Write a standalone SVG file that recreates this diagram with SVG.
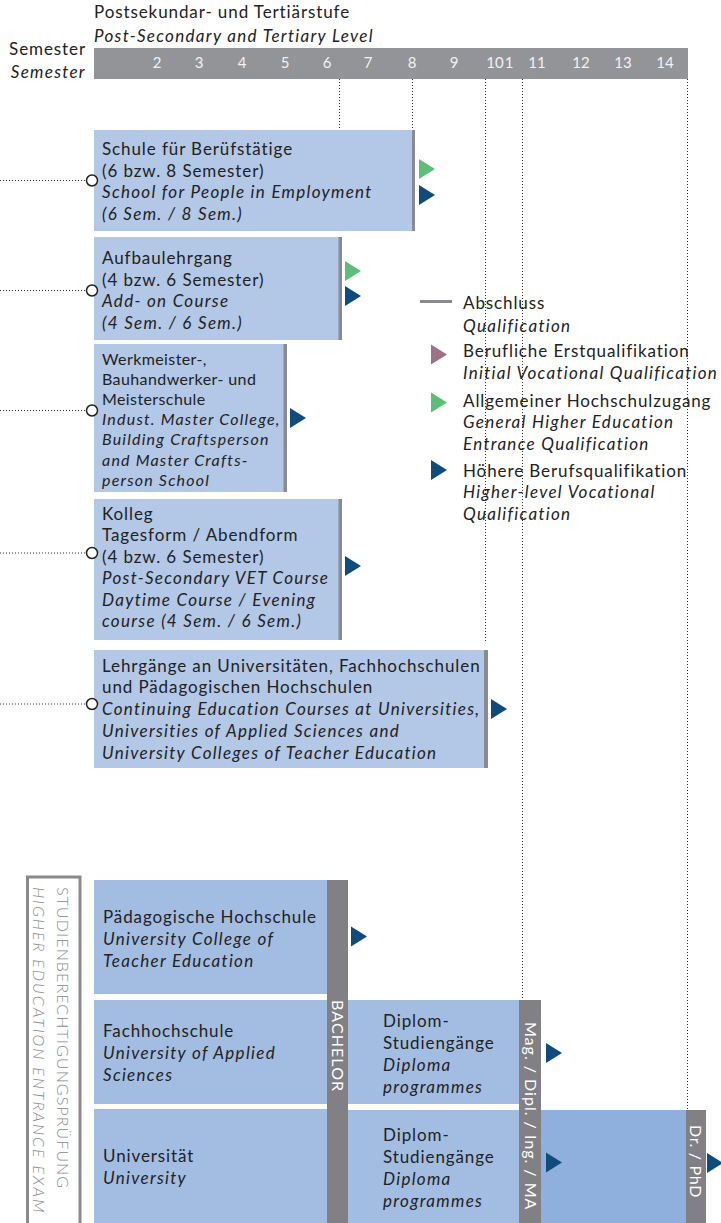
<svg xmlns="http://www.w3.org/2000/svg" width="721" height="1223" viewBox="0 0 721 1223">
<defs>
<style>
text{font-family:Lato,"Noto Sans","Liberation Sans",sans-serif;font-size:17px;letter-spacing:0.9px;fill:#222}
.it{font-style:italic;letter-spacing:1.3px}
.sm{font-size:16px;letter-spacing:0.4px}
.sm.it{letter-spacing:1.2px}
.num{fill:#f2f2f2;font-size:15px;letter-spacing:0;text-anchor:middle}
.box{fill:#b3c7e6}
.box2{fill:#a3bde2}
.phd{fill:#8fb0dc}
.end{fill:#8a8b8f}
.bar{fill:#808085}
.dot{stroke:#333;stroke-width:1;stroke-dasharray:1 2;fill:none}
.circ{fill:#fff;stroke:#222;stroke-width:1.5}
.blue{fill:#0f4c7d}
.green{fill:#5cbf77}
.mauve{fill:#9e7189}
.vt{fill:#fff;font-size:16px;letter-spacing:1px}
.exam{fill:#8a8a8a;font-size:16px;font-weight:300;letter-spacing:1.1px}
.exam.it{letter-spacing:1.9px}
</style>
<polygon id="tri" points="0,-10 16,0 0,10"/>
</defs>

<g id="header">
<text x="94" y="18">Postsekundar- und Tertiärstufe</text>
<text x="94" y="42" class="it">Post-Secondary and Tertiary Level</text>
<text x="86" y="55" text-anchor="end">Semester</text>
<text x="86" y="78" text-anchor="end" class="it">Semester</text>
<rect x="94" y="48" width="594" height="31" fill="#939498"/>
<text class="num" x="157" y="68">2</text>
<text class="num" x="199" y="68">3</text>
<text class="num" x="242" y="68">4</text>
<text class="num" x="285" y="68">5</text>
<text class="num" x="327" y="68">6</text>
<text class="num" x="368" y="68">7</text>
<text class="num" x="412" y="68">8</text>
<text class="num" x="454" y="68">9</text>
<text class="num" x="495" y="68">10</text>
<text class="num" x="509" y="68">1</text>
<text class="num" x="537" y="68">11</text>
<text class="num" x="581" y="68">12</text>
<text class="num" x="623" y="68">13</text>
<text class="num" x="665" y="68">14</text>
</g>

<g id="connectors">
<line class="dot" x1="339.5" y1="79" x2="339.5" y2="130"/>
<line class="dot" x1="412.5" y1="79" x2="412.5" y2="130"/>
<line class="dot" x1="485.5" y1="79" x2="485.5" y2="643"/>
<line class="dot" x1="522.5" y1="79" x2="522.5" y2="1000"/>
<line class="dot" x1="687.5" y1="79" x2="687.5" y2="1110"/>
<line class="dot" x1="0" y1="180.5" x2="86" y2="180.5"/>
<line class="dot" x1="0" y1="290.5" x2="86" y2="290.5"/>
<line class="dot" x1="0" y1="410.5" x2="86" y2="410.5"/>
<line class="dot" x1="0" y1="553" x2="86" y2="553"/>
<line class="dot" x1="0" y1="704" x2="86" y2="704"/>
</g>

<g id="node-schule">
<rect class="box" x="94" y="130" width="321" height="101"/>
<rect class="end" x="412" y="130" width="3" height="101"/>
<text x="102" y="155">Schule für Berüfstätige</text>
<text x="102" y="176.5">(6 bzw. 8 Semester)</text>
<text x="102" y="198" class="it">School for People in Employment</text>
<text x="102" y="219.5" class="it">(6 Sem. / 8 Sem.)</text>
<circle class="circ" cx="92" cy="180.5" r="5.5"/>
<use href="#tri" class="green" x="419" y="169"/>
<use href="#tri" class="blue" x="419" y="195"/>
</g>

<g id="node-aufbau">
<rect class="box" x="94" y="237" width="248" height="103"/>
<rect class="end" x="338.5" y="237" width="3.5" height="103"/>
<text x="102" y="264">Aufbaulehrgang</text>
<text x="102" y="285.5">(4 bzw. 6 Semester)</text>
<text x="102" y="307" class="it">Add- on Course</text>
<text x="102" y="328.5" class="it">(4 Sem. / 6 Sem.)</text>
<circle class="circ" cx="92" cy="290.5" r="5.5"/>
<use href="#tri" class="green" x="345" y="271"/>
<use href="#tri" class="blue" x="345" y="296"/>
</g>

<g id="node-werkmeister">
<rect class="box" x="94" y="344" width="193" height="148"/>
<rect class="end" x="283.5" y="344" width="3.5" height="148"/>
<text x="102" y="364.5" class="sm">Werkmeister-,</text>
<text x="102" y="384.7" class="sm">Bauhandwerker- und</text>
<text x="102" y="405" class="sm">Meisterschule</text>
<text x="102" y="425.2" class="sm it">Indust. Master College,</text>
<text x="102" y="445.4" class="sm it">Building Craftsperson</text>
<text x="102" y="465.6" class="sm it">and Master Crafts-</text>
<text x="102" y="485.8" class="sm it">person School</text>
<circle class="circ" cx="92" cy="410.5" r="5.5"/>
<use href="#tri" class="blue" x="290" y="418"/>
</g>

<g id="node-kolleg">
<rect class="box" x="94" y="499" width="248" height="141"/>
<rect class="end" x="338.5" y="499" width="3.5" height="141"/>
<text x="102" y="520">Kolleg</text>
<text x="102" y="541.4">Tagesform / Abendform</text>
<text x="102" y="562.8">(4 bzw. 6 Semester)</text>
<text x="102" y="584.2" class="it">Post-Secondary VET Course</text>
<text x="102" y="605.6" class="it">Daytime Course / Evening</text>
<text x="102" y="627" class="it">course (4 Sem. / 6 Sem.)</text>
<circle class="circ" cx="92" cy="553" r="5.5"/>
<use href="#tri" class="blue" x="345" y="566"/>
</g>

<g id="node-lehrgaenge">
<rect class="box" x="94" y="650" width="394" height="118"/>
<rect class="end" x="484" y="650" width="4" height="118"/>
<text x="102" y="671.5">Lehrgänge an Universitäten, Fachhochschulen</text>
<text x="102" y="693">und Pädagogischen Hochschulen</text>
<text x="102" y="715" class="it">Continuing Education Courses at Universities,</text>
<text x="102" y="737" class="it">Universities of Applied Sciences and</text>
<text x="102" y="759" class="it">University Colleges of Teacher Education</text>
<circle class="circ" cx="92" cy="704" r="5.5"/>
<use href="#tri" class="blue" x="491" y="709"/>
</g>

<g id="legend">
<rect x="420" y="300" width="32" height="3" fill="#8a8b8f"/>
<text x="463" y="309">Abschluss</text>
<text x="463" y="331.5" class="it">Qualification</text>
<use href="#tri" class="mauve" x="431" y="354.5"/>
<text x="463" y="357">Berufliche Erstqualifikation</text>
<text x="463" y="379" class="it">Initial Vocational Qualification</text>
<use href="#tri" class="green" x="431" y="402.5"/>
<text x="463" y="406.5">Allgemeiner Hochschulzugang</text>
<text x="463" y="428" class="it">General Higher Education</text>
<text x="463" y="450" class="it">Entrance Qualification</text>
<use href="#tri" class="blue" x="431" y="470"/>
<text x="463" y="476.5">Höhere Berufsqualifikation</text>
<text x="463" y="498" class="it">Higher-level Vocational</text>
<text x="463" y="520" class="it">Qualification</text>
</g>

<g id="node-exam">
<rect x="27.5" y="877" width="52.5" height="350" fill="#fff" stroke="#8a8a8c" stroke-width="3"/>
<text class="exam" transform="translate(57,887) rotate(90)">STUDIENBERECHTIGUNGSPRÜFUNG</text>
<text class="exam it" transform="translate(33,887) rotate(90)">HIGHER EDUCATION ENTRANCE EXAM</text>
</g>

<g id="node-ph">
<rect class="box2" x="94" y="880" width="233" height="114"/>
<text x="103" y="922.5">Pädagogische Hochschule</text>
<text x="103" y="944.5" class="it">University College of</text>
<text x="103" y="966.5" class="it">Teacher Education</text>
<use href="#tri" class="blue" x="351" y="936.5"/>
</g>

<g id="node-fh">
<rect class="box2" x="94" y="1000" width="233" height="104"/>
<text x="103" y="1037">Fachhochschule</text>
<text x="103" y="1059" class="it">University of Applied</text>
<text x="103" y="1081" class="it">Sciences</text>
</g>

<g id="node-uni">
<rect class="box2" x="94" y="1109" width="233" height="114"/>
<text x="103" y="1162">Universität</text>
<text x="103" y="1184" class="it">University</text>
</g>

<g id="node-bachelor">
<rect class="bar" x="327" y="880" width="21" height="343"/>
<text class="vt" transform="translate(331.5,1000) rotate(90)" style="letter-spacing:1.1px">BACHELOR</text>
<use href="#tri" class="blue" x="351" y="1053.5"/>
<use href="#tri" class="blue" x="351" y="1165"/>
</g>

<g id="node-diplom-fh">
<rect class="box2" x="348" y="1000" width="171" height="104"/>
<text x="383" y="1027">Diplom-</text>
<text x="383" y="1049">Studiengänge</text>
<text x="383" y="1071" class="it">Diploma</text>
<text x="383" y="1093" class="it">programmes</text>
</g>

<g id="node-diplom-uni">
<rect class="box2" x="348" y="1110" width="171" height="113"/>
<text x="383" y="1141">Diplom-</text>
<text x="383" y="1163">Studiengänge</text>
<text x="383" y="1185" class="it">Diploma</text>
<text x="383" y="1207" class="it">programmes</text>
</g>

<g id="node-master">
<rect class="bar" x="519" y="1000" width="22" height="223"/>
<text class="vt" transform="translate(524.5,1022) rotate(90)">Mag. / Dipl. / Ing. / MA</text>
<use href="#tri" class="blue" x="546" y="1053"/>
</g>

<g id="node-phd">
<rect class="phd" x="541" y="1110" width="145" height="113"/>
<use href="#tri" class="blue" x="546" y="1162.5"/>
<rect class="bar" x="686" y="1110" width="20" height="113"/>
<text class="vt" transform="translate(690,1125) rotate(90)" style="letter-spacing:0.7px">Dr. / PhD</text>
<use href="#tri" class="blue" x="707" y="1163"/>
</g>
</svg>
